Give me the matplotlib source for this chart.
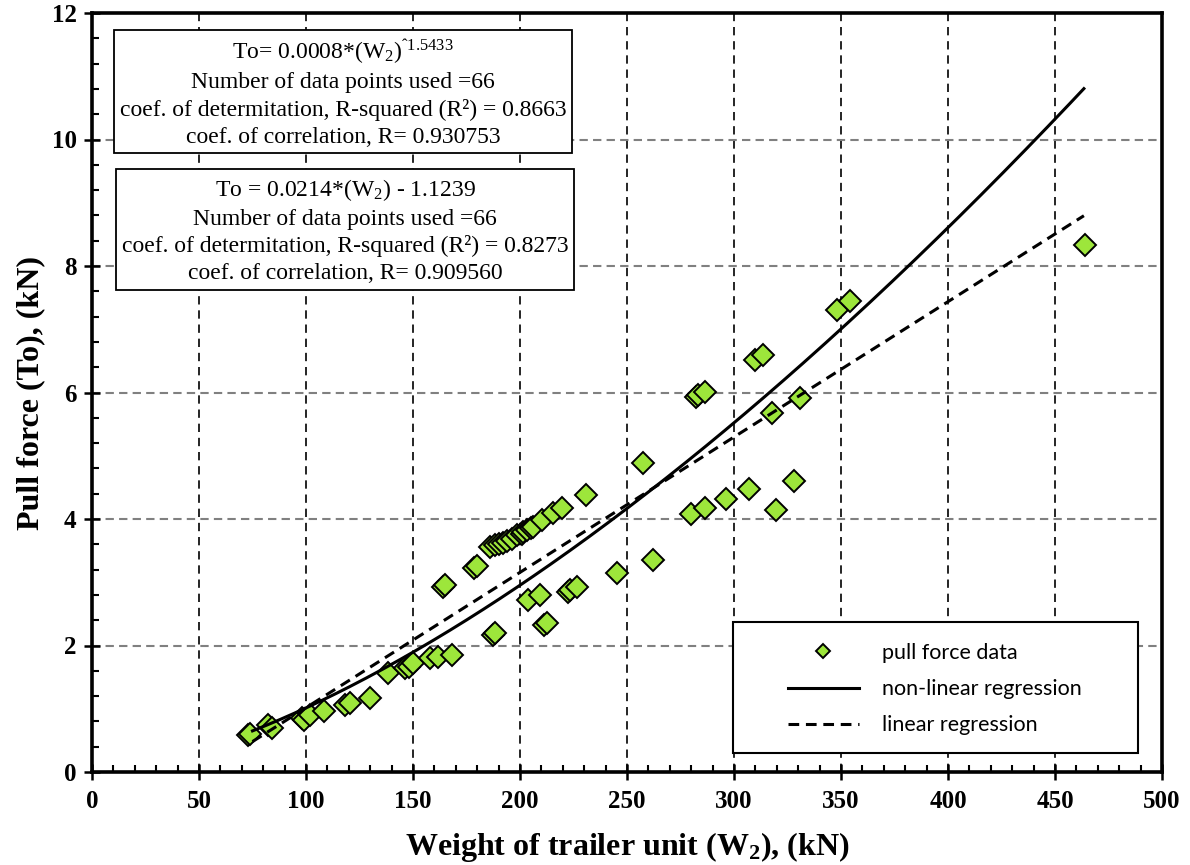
import matplotlib

matplotlib.use("Agg")
import matplotlib.pyplot as plt
import numpy as np
from matplotlib.patches import Rectangle
from matplotlib.ticker import MultipleLocator

weight_kn = [73.0, 74.0, 82.4, 84.0, 98.0, 99.0, 101.9, 108.6, 118.2, 120.6,
             129.9, 138.5, 146.3, 148.0, 150.1, 157.9, 161.8, 168.1, 164.0, 165.0,
             178.5, 179.8, 186.0, 188.3, 190.0, 192.2, 194.0, 196.1, 198.5, 200.8,
             201.5, 203.1, 205.0, 206.2, 210.1, 215.6, 219.5, 230.7, 187.4, 188.3,
             203.9, 209.3, 211.2, 212.5, 222.4, 223.4, 226.5, 245.2, 257.3, 262.0,
             279.9, 286.4, 296.1, 307.0, 319.5, 328.0, 282.2, 283.3, 286.4, 309.8,
             313.7, 317.6, 330.8, 348.3, 354.2, 464.0]
pull_kn = [0.585, 0.60, 0.74, 0.69, 0.85, 0.83, 0.90, 0.96, 1.06, 1.09,
           1.17, 1.56, 1.64, 1.66, 1.72, 1.80, 1.82, 1.85, 2.92, 2.96,
           3.22, 3.25, 3.56, 3.59, 3.60, 3.62, 3.65, 3.69, 3.75, 3.77,
           3.79, 3.83, 3.85, 3.88, 3.98, 4.09, 4.17, 4.38, 2.17, 2.19,
           2.72, 2.80, 2.32, 2.35, 2.85, 2.88, 2.93, 3.14, 4.89, 3.35,
           4.08, 4.17, 4.32, 4.47, 4.15, 4.60, 5.93, 5.96, 6.01, 6.51,
           6.59, 5.67, 5.91, 7.30, 7.44, 8.33]

# fitted models (power fit coefficient unrounded a bit vs. the label)
NL_COEF = 0.00083
NL_EXP = 1.5433
LIN_SLOPE = 0.0214
LIN_ICPT = -1.1239
W_FIT_MIN, W_FIT_MAX = 75.0, 463.5

box_nonlinear = ("To= 0.0008*(W$_2$)$^{\\mathrm{ˆ1.5433}}$\n"
                 "Number of data points used =66\n"
                 "coef. of determitation, R-squared (R²) = 0.8663\n"
                 "coef. of correlation, R= 0.930753")
box_linear = ("To = 0.0214*(W$_2$) - 1.1239\n"
              "Number of data points used =66\n"
              "coef. of determitation, R-squared (R²) = 0.8273\n"
              "coef. of correlation, R= 0.909560")

plt.rcParams["font.family"] = ["Liberation Serif", "DejaVu Serif"]
plt.rcParams["mathtext.fontset"] = "custom"
plt.rcParams["mathtext.rm"] = "Liberation Serif"
plt.rcParams["mathtext.it"] = "Liberation Serif:italic"
plt.rcParams["mathtext.bf"] = "Liberation Serif:bold"

fig = plt.figure(figsize=(11.9, 8.65), dpi=100)
ax = fig.add_axes([92 / 1190, 1 - 772 / 865, 1070 / 1190, 759 / 865])

w_fit = np.linspace(W_FIT_MIN, W_FIT_MAX, 300)
ax.plot(weight_kn, pull_kn, "D", ms=10.8, mfc="#9de63b", mec="black",
        mew=1.4, ls="none", label="pull force data", zorder=3)
ax.plot(w_fit, NL_COEF * w_fit ** NL_EXP, color="black", lw=2.2,
        label="non-linear regression", zorder=4)
ax.plot(w_fit, LIN_SLOPE * w_fit + LIN_ICPT, color="black", lw=2.2,
        ls=(0, (3.5, 2.2)), label="linear regression", zorder=4)

ax.set_xlim(0, 500)
ax.set_ylim(0, 12)
ax.xaxis.set_major_locator(MultipleLocator(50))
ax.xaxis.set_minor_locator(MultipleLocator(10))
ax.yaxis.set_major_locator(MultipleLocator(2))
ax.yaxis.set_minor_locator(MultipleLocator(0.4))

ax.set_axisbelow(True)
ax.xaxis.grid(True, color="black", ls=(0, (5, 3.5)), lw=1.2)
ax.yaxis.grid(True, color="#808080", ls=(0, (4, 2.5)), lw=1.5)

for side in ax.spines.values():
    side.set_linewidth(2.6)
ax.tick_params(which="major", direction="inout", length=12, width=1.8)
ax.tick_params(which="minor", direction="in", length=5, width=1.5)
ax.tick_params(axis="x", which="major", pad=7)
ax.tick_params(axis="y", which="major", pad=5)
for lbl in ax.get_xticklabels() + ax.get_yticklabels():
    lbl.set_fontsize(18)
    lbl.set_fontweight("bold")

ax.set_xlabel("Weight of trailer unit (W$_\\mathbf{2}$), (kN)",
              fontsize=23, fontweight="bold", labelpad=12)
ax.set_ylabel("Pull force (To), (kN)", fontsize=23, fontweight="bold",
              labelpad=5)

box_style = dict(boxstyle="square,pad=0.25", fc="white", ec="black", lw=1.3)
ax.text(0.2346, 0.895, box_nonlinear, transform=ax.transAxes, ha="center",
        va="center", fontsize=17, linespacing=1.35, bbox=box_style, zorder=6)
ax.text(0.2364, 0.7134, box_linear, transform=ax.transAxes, ha="center",
        va="center", fontsize=17, linespacing=1.35, bbox=box_style, zorder=6)

# legend frame is wider than its content in the original
ax.add_patch(Rectangle((0.599, 0.025), 0.3786, 0.1726, transform=ax.transAxes,
                       fc="white", ec="black", lw=1.5, zorder=5))
leg = ax.legend(loc="upper left", bbox_to_anchor=(0.650, 0.170),
                frameon=False, borderpad=0, borderaxespad=0,
                prop={"family": "Lato", "size": 15.5}, handlelength=3.3,
                handletextpad=1.1, labelspacing=0.75, markerscale=0.63)
leg.set_zorder(7)

fig.savefig("out.png", dpi=100)
